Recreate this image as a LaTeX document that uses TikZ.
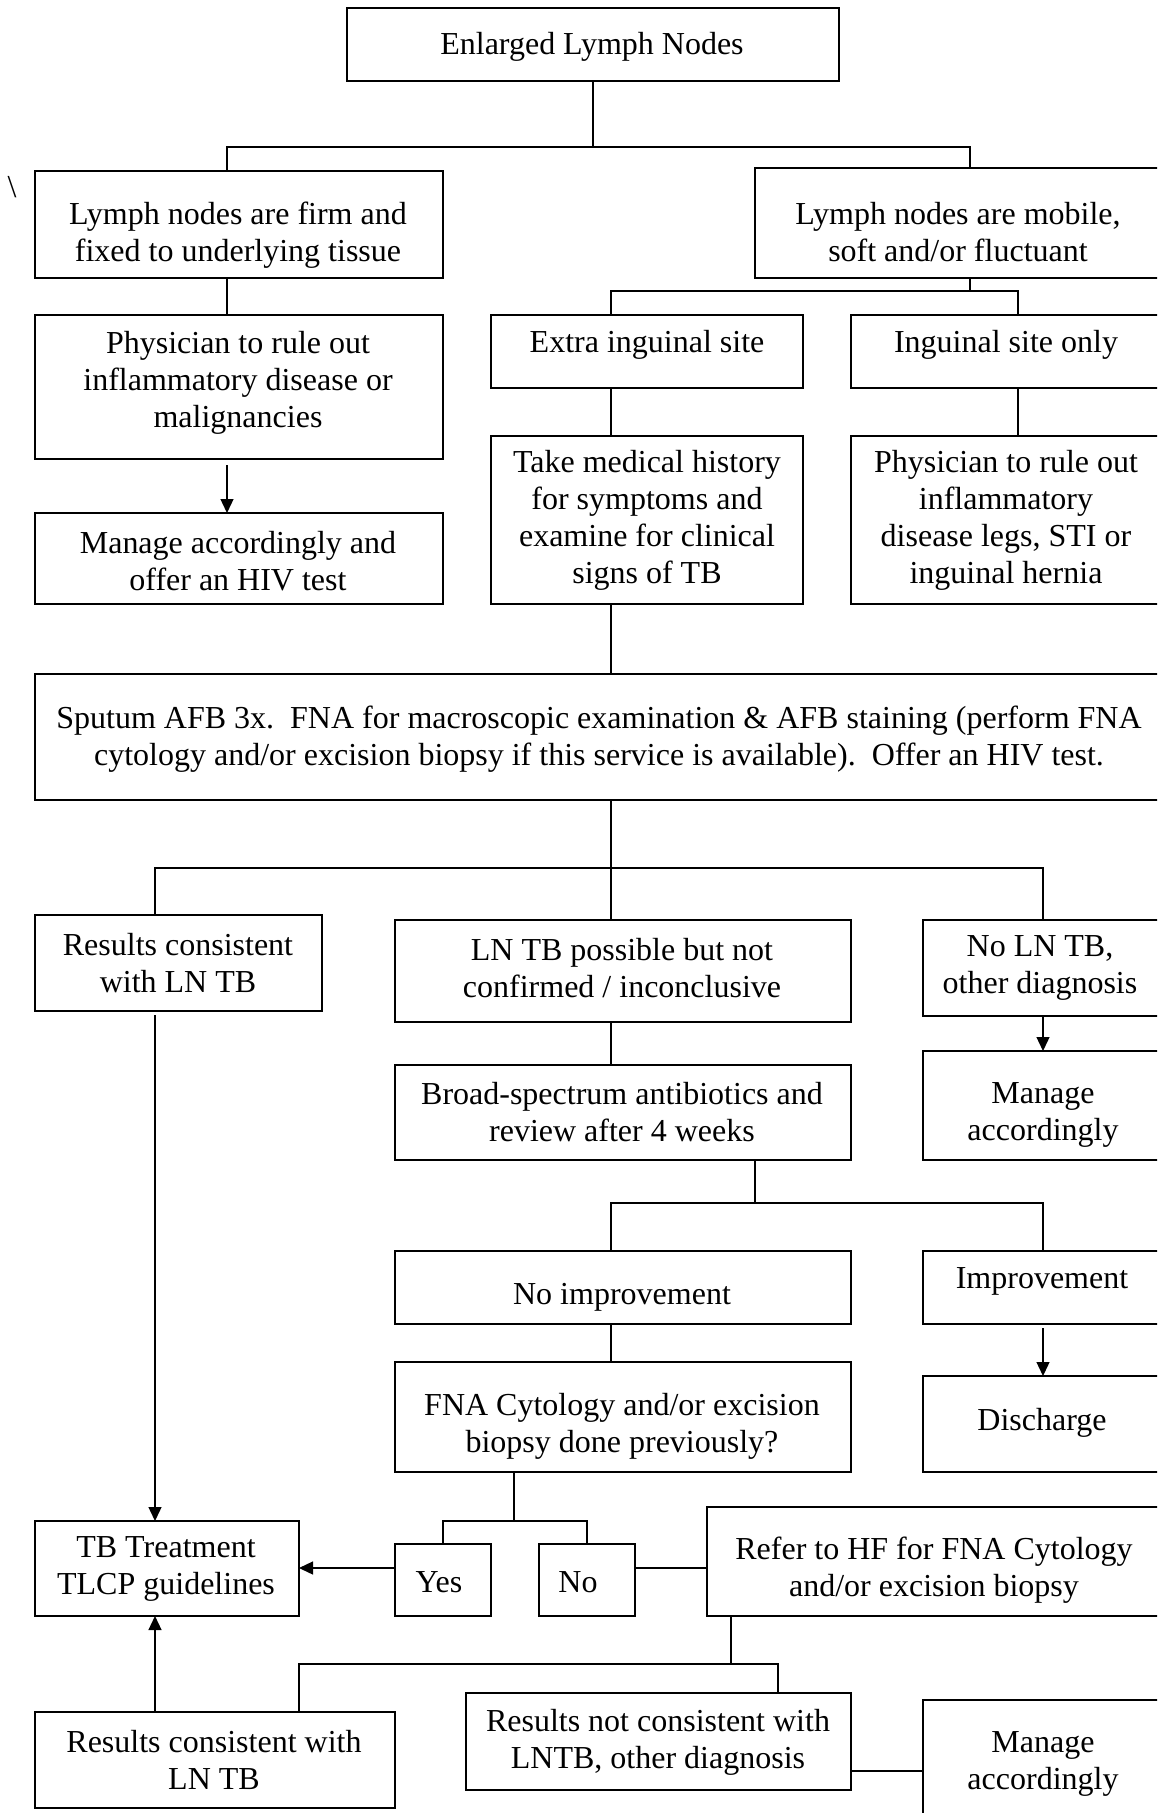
\documentclass[tikz,border=0pt]{standalone}
\usepackage{fontspec}
\setmainfont{Liberation Serif}
\usetikzlibrary{arrows.meta,fit}
\begin{document}
\begin{tikzpicture}[x=1pt,y=-1pt,
  box/.style={draw, line width=2pt, inner sep=0pt, outer sep=0pt},
  txt/.style={align=center, inner sep=0pt, font=\fontsize{32}{37}\selectfont},
  conn/.style={line width=1.3pt},
  arr/.style={conn, -{Triangle[length=14pt,width=13pt]}}]
\clip (0,0) rectangle (1157,1813);
% boxes
\node[box, fit={(347,8) (839,81)}] (enl) {};
\node[box, fit={(35,171) (443,278)}] (firm) {};
\node[box, fit={(755,168) (1170,278)}] (mobile) {};
\node[box, fit={(35,315) (443,459)}] (phys) {};
\node[box, fit={(35,513) (443,604)}] (manone) {};
\node[box, fit={(491,315) (803,388)}] (extra) {};
\node[box, fit={(851,315) (1170,388)}] (ing) {};
\node[box, fit={(491,436) (803,604)}] (take) {};
\node[box, fit={(851,436) (1170,604)}] (physb) {};
\node[box, fit={(35,674) (1170,800)}] (sputum) {};
\node[box, fit={(35,915) (322,1011)}] (resone) {};
\node[box, fit={(395,920) (851,1022)}] (lntb) {};
\node[box, fit={(923,920) (1170,1016)}] (nolntb) {};
\node[box, fit={(395,1065) (851,1160)}] (broad) {};
\node[box, fit={(923,1051) (1170,1160)}] (mana) {};
\node[box, fit={(395,1251) (851,1324)}] (noimp) {};
\node[box, fit={(923,1251) (1170,1324)}] (imp) {};
\node[box, fit={(395,1362) (851,1472)}] (fna) {};
\node[box, fit={(923,1376) (1170,1472)}] (dis) {};
\node[box, fit={(35,1521) (299,1616)}] (tb) {};
\node[box, fit={(395,1544) (491,1616)}] (yes) {};
\node[box, fit={(539,1544) (635,1616)}] (no) {};
\node[box, fit={(707,1507) (1170,1616)}] (refer) {};
\node[box, fit={(35,1712) (395,1808)}] (restwo) {};
\node[box, fit={(466,1693) (851,1790)}] (resnot) {};
\node[box, fit={(923,1700) (1170,1830)}] (manb) {};
% texts
\node[txt] (t-enl) at (592,47) {Enlarged Lymph Nodes};
\node[txt] (t-firm) at (238,235) {Lymph nodes are firm and\\fixed to underlying tissue};
\node[txt] (t-mobile) at (958,232) {Lymph nodes are mobile,\\soft and/or fluctuant};
\node[txt] (t-phys) at (238,383) {Physician to rule out\\inflammatory disease or\\malignancies};
\node[txt] (t-manone) at (238,561) {Manage accordingly and\\offer an HIV test};
\node[txt] (t-extra) at (647,345) {Extra inguinal site};
\node[txt] (t-ing) at (1006,345) {Inguinal site only};
\node[txt] (t-take) at (647,520) {Take medical history\\for symptoms and\\examine for clinical\\signs of TB};
\node[txt] (t-physb) at (1006,520) {Physician to rule out\\inflammatory\\disease legs, STI or\\inguinal hernia};
\node[txt] (t-sputum) at (599,739) {Sputum AFB 3x.\ \ FNA for macroscopic examination \& AFB staining (perform FNA\\cytology and/or excision biopsy if this service is available).\ \ Offer an HIV test.};
\node[txt] (t-resone) at (178,963) {Results consistent\\with LN TB};
\node[txt] (t-lntb) at (622,968) {LN TB possible but not\\confirmed / inconclusive};
\node[txt] (t-nolntb) at (1040,968) {No LN TB,\\other diagnosis};
\node[txt] (t-broad) at (622,1112) {Broad-spectrum antibiotics and\\review after 4 weeks};
\node[txt] (t-mana) at (1043,1115) {Manage\\accordingly};
\node[txt] (t-noimp) at (622,1297) {No improvement};
\node[txt] (t-imp) at (1042,1281) {Improvement};
\node[txt] (t-fna) at (622,1426) {FNA Cytology and/or excision\\biopsy done previously?};
\node[txt] (t-dis) at (1042,1423) {Discharge};
\node[txt] (t-tb) at (166,1569) {TB Treatment\\TLCP guidelines};
\node[txt] (t-yes) at (439,1582) {Yes};
\node[txt] (t-no) at (578,1582) {No};
\node[txt] (t-refer) at (934,1570) {Refer to HF for FNA Cytology\\and/or excision biopsy};
\node[txt] (t-restwo) at (214,1760) {Results consistent with\\LN TB};
\node[txt] (t-resnot) at (658,1742) {Results not consistent with\\LNTB, other diagnosis};
\node[txt] (t-manb) at (1043,1764) {Manage\\accordingly};
\node[txt] (bslash) at (12,187) {\textbackslash};
% bus coordinates
\coordinate (b1) at (593,147);
\coordinate (b2) at (970,291);
\coordinate (b3) at (611,868);
\coordinate (b4) at (755,1203);
\coordinate (b5) at (514,1521);
\coordinate (b6) at (731,1664);
% connectors
\draw[conn] (enl.south) -- (b1);
\draw[conn] (firm.north -| 227,0) |- (b1) -| (mobile.north -| 970,0);
\draw[conn] (firm.south -| 227,0) -- (phys.north -| 227,0);
\draw[arr, shorten <=6pt] (phys.south -| 227,0) -- (manone.north -| 227,0);
\draw[conn] (mobile.south -| 970,0) -- (b2);
\draw[conn] (extra.north -| 611,0) |- (b2) -| (ing.north -| 1018,0);
\draw[conn] (extra.south -| 611,0) -- (take.north -| 611,0);
\draw[conn] (ing.south -| 1018,0) -- (physb.north -| 1018,0);
\draw[conn] (take.south -| 611,0) -- (sputum.north -| 611,0);
\draw[conn] (sputum.south -| 611,0) -- (b3);
\draw[conn] (resone.north -| 155,0) |- (b3) -| (nolntb.north -| 1043,0);
\draw[conn] (b3) -- (lntb.north -| 611,0);
\draw[arr, shorten <=4pt] (resone.south -| 155,0) -- (tb.north -| 155,0);
\draw[conn] (lntb.south -| 611,0) -- (broad.north -| 611,0);
\draw[arr] (nolntb.south -| 1043,0) -- (mana.north -| 1043,0);
\draw[conn] (broad.south -| 755,0) -- (b4);
\draw[conn] (noimp.north -| 611,0) |- (b4) -| (imp.north -| 1043,0);
\draw[conn] (noimp.south -| 611,0) -- (fna.north -| 611,0);
\draw[arr, shorten <=4pt] (imp.south -| 1043,0) -- (dis.north -| 1043,0);
\draw[conn] (fna.south -| 514,0) -- (b5);
\draw[conn] (yes.north -| 443,0) |- (b5) -| (no.north -| 587,0);
\draw[arr] (yes.west |- 0,1568) -- (tb.east |- 0,1568);
\draw[conn] (no.east |- 0,1568) -- (refer.west |- 0,1568);
\draw[conn] (refer.south -| 731,0) -- (b6);
\draw[conn] (restwo.north -| 299,0) |- (b6) -| (resnot.north -| 778,0);
\draw[arr] (restwo.north -| 155,0) -- (tb.south -| 155,0);
\draw[conn] (resnot.east |- 0,1771) -- (manb.west |- 0,1771);
\end{tikzpicture}
\end{document}
